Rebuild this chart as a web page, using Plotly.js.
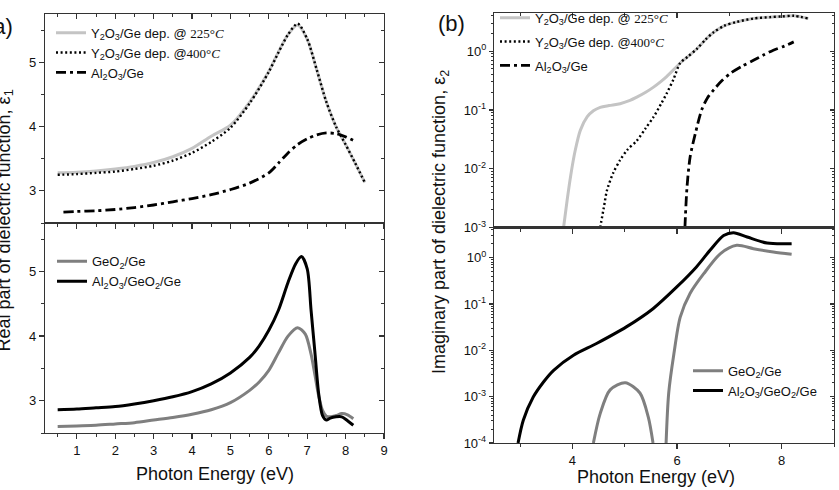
<!DOCTYPE html>
<html><head><meta charset="utf-8">
<script src="https://cdn.plot.ly/plotly-3.0.1.min.js"></script>
<style>html,body{margin:0;padding:0;background:#fff}#chart{width:839px;height:490px}</style>
</head><body><div id="chart"></div>
<script>
// ---------- Panel (a) upper : real part, epsilon1 ----------
const aUpX_Y225 = [0.5,1,1.5,2,2.5,3,3.5,4,4.5,5,5.5,6,6.25,6.5,6.75,7,7.25,7.5,7.75,8,8.25,8.5];
const aUpY_Y225 = [3.28,3.29,3.31,3.34,3.38,3.44,3.53,3.66,3.85,4.02,4.38,4.86,5.16,5.43,5.58,5.36,4.88,4.38,4.0,3.72,3.43,3.13];
const aUpX_Y400 = [0.5,1,1.5,2,2.5,3,3.5,4,4.5,5,5.5,6,6.25,6.5,6.75,7,7.25,7.5,7.75,8,8.25,8.5];
const aUpY_Y400 = [3.25,3.26,3.28,3.30,3.34,3.39,3.47,3.59,3.76,3.98,4.36,4.85,5.15,5.43,5.60,5.36,4.88,4.38,4.0,3.72,3.43,3.13];
const aUpX_Al = [0.65,1,1.5,2,2.5,3,3.5,4,4.5,5,5.5,6,6.25,6.5,6.75,7,7.25,7.5,7.75,8,8.25];
const aUpY_Al = [2.67,2.68,2.69,2.71,2.74,2.78,2.83,2.88,2.94,3.02,3.12,3.28,3.43,3.59,3.72,3.81,3.87,3.90,3.89,3.84,3.77];

// ---------- Panel (a) lower ----------
const aLoX_GeO2 = [0.5,1,1.5,2,2.5,3,3.5,4,4.5,5,5.5,5.75,6,6.25,6.5,6.75,6.95,7.1,7.2,7.3,7.4,7.5,7.6,7.75,7.9,8.05,8.2];
const aLoY_GeO2 = [2.60,2.61,2.62,2.64,2.66,2.70,2.74,2.79,2.86,2.97,3.16,3.29,3.47,3.74,4.0,4.13,4.03,3.72,3.40,3.07,2.85,2.76,2.75,2.77,2.80,2.78,2.72];
const aLoX_AlGeO2 = [0.5,1,1.5,2,2.5,3,3.5,4,4.5,5,5.5,5.75,6,6.25,6.5,6.7,6.85,7.0,7.1,7.2,7.3,7.4,7.5,7.6,7.75,7.9,8.05,8.2];
const aLoY_AlGeO2 = [2.86,2.87,2.89,2.91,2.95,3.0,3.06,3.14,3.26,3.43,3.67,3.85,4.09,4.4,4.83,5.12,5.23,5.04,4.4,3.75,3.1,2.77,2.70,2.73,2.75,2.75,2.69,2.62];

// ---------- Panel (b) upper : imaginary part, epsilon2 ----------
const bUpX_Y225 = [3.83,3.9,3.97,4.05,4.15,4.28,4.4,4.53,4.7,4.91,5.1,5.23,5.4,5.55,5.7,5.8,5.95,6.06,6.2,6.38,6.55,6.7,6.9,7.14,7.46,7.78,8.0,8.23,8.51];
const bUpY_Y225 = [0.001,0.003,0.008,0.02,0.045,0.076,0.097,0.111,0.119,0.128,0.145,0.165,0.2,0.245,0.31,0.37,0.5,0.63,0.8,1.1,1.6,2.1,2.7,3.15,3.6,3.8,3.9,4.0,3.6];
const bUpX_Y400 = [4.53,4.6,4.66,4.78,4.91,5.05,5.23,5.4,5.55,5.7,5.8,5.93,6.06,6.2,6.38,6.55,6.7,6.9,7.14,7.46,7.78,8.0,8.23,8.51];
const bUpY_Y400 = [0.001,0.0022,0.0043,0.0085,0.014,0.021,0.03,0.049,0.076,0.13,0.19,0.33,0.63,0.8,1.1,1.6,2.1,2.7,3.15,3.6,3.8,3.9,4.0,3.6];
const bUpX_Al = [6.15,6.19,6.25,6.35,6.47,6.58,6.7,6.85,7.02,7.25,7.46,7.65,7.84,8.05,8.23];
const bUpY_Al = [0.001,0.0049,0.016,0.04,0.1,0.16,0.22,0.31,0.42,0.56,0.7,0.86,1.04,1.22,1.44];

// ---------- Panel (b) lower ----------
const bLoX_GeO2 = [4.40,4.53,4.72,5.01,5.29,5.45,5.54,null,5.79,5.84,5.94,6.06,6.25,6.51,6.83,7.14,7.46,7.84,8.19];
const bLoY_GeO2 = [0.0001,0.00043,0.0014,0.002,0.0012,0.00036,0.0001,null,0.0001,0.0012,0.0085,0.052,0.17,0.45,1.22,1.84,1.56,1.32,1.18];
const bLoX_AlGeO2 = [2.96,3.06,3.25,3.45,3.64,4.02,4.46,5.03,5.54,5.99,6.37,6.63,6.89,7.08,7.34,7.72,8.19];
const bLoY_AlGeO2 = [0.0001,0.00031,0.00098,0.0021,0.0037,0.0078,0.014,0.032,0.079,0.23,0.63,1.44,3.0,3.46,2.78,2.06,2.0];

// ---------- series names / tick labels ----------
const nameY225 = 'Y<sub>2</sub>O<sub>3</sub>/Ge dep. @ <span style="font-family:Liberation Serif">225°<i>C</i></span>';
const nameY400 = 'Y<sub>2</sub>O<sub>3</sub>/Ge dep. @<span style="font-family:Liberation Serif">400°<i>C</i></span>';
const nameAl = 'Al<sub>2</sub>O<sub>3</sub>/Ge';
const nameGeO2 = 'GeO<sub>2</sub>/Ge';
const nameAlGeO2 = 'Al<sub>2</sub>O<sub>3</sub>/GeO<sub>2</sub>/Ge';
const bUpTickVals = [0.001, 0.01, 0.1, 1];
const bUpTickText = ['10<sup>-3</sup>','10<sup>-2</sup>','10<sup>-1</sup>','10<sup>0</sup>'];
const bLoTickVals = [0.0001, 0.001, 0.01, 0.1, 1];
const bLoTickText = ['10<sup>-4</sup>','10<sup>-3</sup>','10<sup>-2</sup>','10<sup>-1</sup>','10<sup>0</sup>'];

// ---------- layout helpers ----------
const W = 839, H = 490;
const px = v => v / W, py = v => 1 - v / H;
const FONT = 'Liberation Sans, Arial, sans-serif';
const LC = '#333';
const LIGHT = '#c4c4c4', MID = '#7f7f7f', BLACK = '#000';

const aXdom = [px(45), px(384)], bXdom = [px(494), px(834)];
const aUpDom = [py(223), py(14)], aLoDom = [py(433), py(223)];
const bUpDom = [py(227.5), py(13)], bLoDom = [py(443), py(227.5)];
const aXr = [0.17, 9], aYr = [2.5, 5.75];
const bXr = [2.5, 9], bUpYr = [-3, 0.65], bLoYr = [-4, 0.65];

function ax(o) {
  return Object.assign({
    showgrid: false, zeroline: false, showline: true, linecolor: LC, linewidth: 1.2,
    ticks: 'outside', ticklen: 5, tickwidth: 1.2, tickcolor: LC,
    tickfont: {family: FONT, size: 13, color: '#111'}, fixedrange: true
  }, o);
}
function minor(dir, dt, len) {
  return {ticks: dir, dtick: dt, ticklen: len || 3, tickwidth: 1, tickcolor: LC, showgrid: false};
}
function logMinor(dir) {
  return {ticks: dir, tickmode: 'linear', dtick: 'D1', ticklen: 2, tickwidth: 1, tickcolor: LC, showgrid: false};
}

function line(x, y, name, color, width, dash, xa, ya, lg, grp) {
  return {type: 'scatter', mode: 'lines', x, y, name, xaxis: xa, yaxis: ya, legend: lg,
    legendgroup: grp, hoverinfo: 'skip', connectgaps: false,
    line: {color, width, dash, shape: 'spline', smoothing: 0.8}};
}
function dummy(xa, ya) {
  return {type: 'scatter', mode: 'lines', x: [null], y: [null], xaxis: xa, yaxis: ya, showlegend: false, hoverinfo: 'skip'};
}

const DOT = '2px,2.6px', DASHDOT = '10px,4px,3px,4px';

const data = [
  line(aUpX_Y225, aUpY_Y225, nameY225, LIGHT, 3, 'solid', 'x', 'y', 'legend'),
  line(aUpX_Y400, aUpY_Y400, nameY400, BLACK, 2.4, DOT, 'x', 'y', 'legend'),
  line(aUpX_Al, aUpY_Al, nameAl, BLACK, 2.8, DASHDOT, 'x', 'y', 'legend'),
  line(aLoX_GeO2, aLoY_GeO2, nameGeO2, MID, 3, 'solid', 'x2', 'y2', 'legend2'),
  line(aLoX_AlGeO2, aLoY_AlGeO2, nameAlGeO2, BLACK, 3, 'solid', 'x2', 'y2', 'legend2'),
  line(bUpX_Y225, bUpY_Y225, nameY225, LIGHT, 3, 'solid', 'x3', 'y3', 'legend3', 'g1'),
  line(bUpX_Y400, bUpY_Y400, nameY400, BLACK, 2.4, DOT, 'x3', 'y3', 'legend3', 'g2'),
  line(bUpX_Al, bUpY_Al, nameAl, BLACK, 2.8, DASHDOT, 'x3', 'y3', 'legend3', 'g3'),
  line(bLoX_GeO2, bLoY_GeO2, nameGeO2, MID, 3, 'solid', 'x4', 'y4', 'legend4'),
  line(bLoX_AlGeO2, bLoY_AlGeO2, nameAlGeO2, BLACK, 3, 'solid', 'x4', 'y4', 'legend4'),
  // carriers for the mirrored (top / right) tick axes
  dummy('x5', 'y'), dummy('x', 'y5'),
  dummy('x6', 'y2'), dummy('x2', 'y6'),
  dummy('x7', 'y3'), dummy('x3', 'y7'),
  dummy('x8', 'y4'), dummy('x4', 'y8')
];

const legBase = {xanchor: 'left', yanchor: 'top', bgcolor: 'rgba(0,0,0,0)', borderwidth: 0,
  font: {family: FONT, size: 13, color: '#111'}};

const mir = {showline: false, showticklabels: false, ticks: 'inside'};

const layout = {
  width: W, height: H, margin: {l: 0, r: 0, t: 0, b: 0},
  paper_bgcolor: '#fff', plot_bgcolor: 'rgba(0,0,0,0)',
  font: {family: FONT, color: '#111'}, showlegend: true,
  xaxis: ax({domain: aXdom, range: aXr, anchor: 'y', dtick: 1, tick0: 0, showticklabels: false, mirror: true, minor: minor('outside', 0.5)}),
  yaxis: ax({domain: aUpDom, range: aYr, anchor: 'x', dtick: 1, tick0: 0, mirror: true, minor: minor('outside', 0.5)}),
  xaxis2: ax({domain: aXdom, range: aXr, anchor: 'y2', dtick: 1, tick0: 0, mirror: true, minor: minor('outside', 0.5)}),
  yaxis2: ax({domain: aLoDom, range: aYr, anchor: 'x2', dtick: 1, tick0: 0, mirror: true, minor: minor('outside', 0.5)}),
  xaxis3: ax({domain: bXdom, range: bXr, anchor: 'y3', dtick: 2, tick0: 0, showticklabels: false, mirror: true, minor: minor('outside', 1)}),
  yaxis3: ax({domain: bUpDom, range: bUpYr, type: 'log', anchor: 'x3', tickmode: 'array', tickvals: bUpTickVals, ticktext: bUpTickText, ticklen: 4, mirror: true, minor: logMinor('outside')}),
  xaxis4: ax({domain: bXdom, range: bXr, anchor: 'y4', dtick: 2, tick0: 0, mirror: true, minor: minor('outside', 1)}),
  yaxis4: ax({domain: bLoDom, range: bLoYr, type: 'log', anchor: 'x4', tickmode: 'array', tickvals: bLoTickVals, ticktext: bLoTickText, ticklen: 4, mirror: true, minor: logMinor('outside')}),
  xaxis5: ax(Object.assign({range: aXr, overlaying: 'x', anchor: 'y', side: 'top', dtick: 1, tick0: 0, minor: minor('inside', 0.5)}, mir)),
  yaxis5: ax(Object.assign({range: aYr, overlaying: 'y', anchor: 'x', side: 'right', dtick: 1, tick0: 0, minor: minor('inside', 0.5)}, mir)),
  xaxis6: ax(Object.assign({range: aXr, overlaying: 'x2', anchor: 'y2', side: 'top', dtick: 1, tick0: 0, minor: minor('inside', 0.5)}, mir)),
  yaxis6: ax(Object.assign({range: aYr, overlaying: 'y2', anchor: 'x2', side: 'right', dtick: 1, tick0: 0, minor: minor('inside', 0.5)}, mir)),
  xaxis7: ax(Object.assign({range: bXr, overlaying: 'x3', anchor: 'y3', side: 'top', dtick: 2, tick0: 0, minor: minor('inside', 1)}, mir)),
  yaxis7: ax(Object.assign({range: bUpYr, type: 'log', overlaying: 'y3', anchor: 'x3', side: 'right', ticklen: 4, tickmode: 'array', tickvals: bUpTickVals, minor: logMinor('inside')}, mir)),
  xaxis8: ax(Object.assign({range: bXr, overlaying: 'x4', anchor: 'y4', side: 'top', dtick: 2, tick0: 0, minor: minor('inside', 1)}, mir)),
  yaxis8: ax(Object.assign({range: bLoYr, type: 'log', overlaying: 'y4', anchor: 'x4', side: 'right', ticklen: 4, tickmode: 'array', tickvals: bLoTickVals, minor: logMinor('inside')}, mir)),
  legend: Object.assign({x: px(51), y: py(17.7)}, legBase),
  legend2: Object.assign({x: px(52), y: py(246.4)}, legBase),
  legend3: Object.assign({x: px(495), y: py(2.7), traceorder: 'grouped', tracegroupgap: 4}, legBase),
  legend4: Object.assign({x: px(688), y: py(355.7)}, legBase),
  annotations: [
    {text: '(a)', xref: 'paper', yref: 'paper', x: px(15), y: py(27), xanchor: 'right', yanchor: 'middle', showarrow: false, font: {family: FONT, size: 22, color: '#111'}},
    {text: '(b)', xref: 'paper', yref: 'paper', x: px(436), y: py(23), xanchor: 'left', yanchor: 'middle', showarrow: false, font: {family: FONT, size: 22, color: '#111'}},
    {text: 'Real part of dielectric function, ε<sub>1</sub>', xref: 'paper', yref: 'paper', x: px(4.5), y: py(221), xanchor: 'center', yanchor: 'middle', textangle: -90, showarrow: false, font: {family: FONT, size: 18, color: '#111'}},
    {text: 'Imaginary part of dielectric function, ε<sub>2</sub>', xref: 'paper', yref: 'paper', x: px(440), y: py(222), xanchor: 'center', yanchor: 'middle', textangle: -90, showarrow: false, font: {family: FONT, size: 18, color: '#111'}},
    {text: 'Photon Energy (eV)', xref: 'paper', yref: 'paper', x: px(215), y: py(474), xanchor: 'center', yanchor: 'middle', showarrow: false, font: {family: FONT, size: 18, color: '#111'}},
    {text: 'Photon Energy (eV)', xref: 'paper', yref: 'paper', x: px(656), y: py(477), xanchor: 'center', yanchor: 'middle', showarrow: false, font: {family: FONT, size: 18, color: '#111'}}
  ]
};

Plotly.newPlot('chart', data, layout, {staticPlot: true, displayModeBar: false});
</script>
</body></html>
